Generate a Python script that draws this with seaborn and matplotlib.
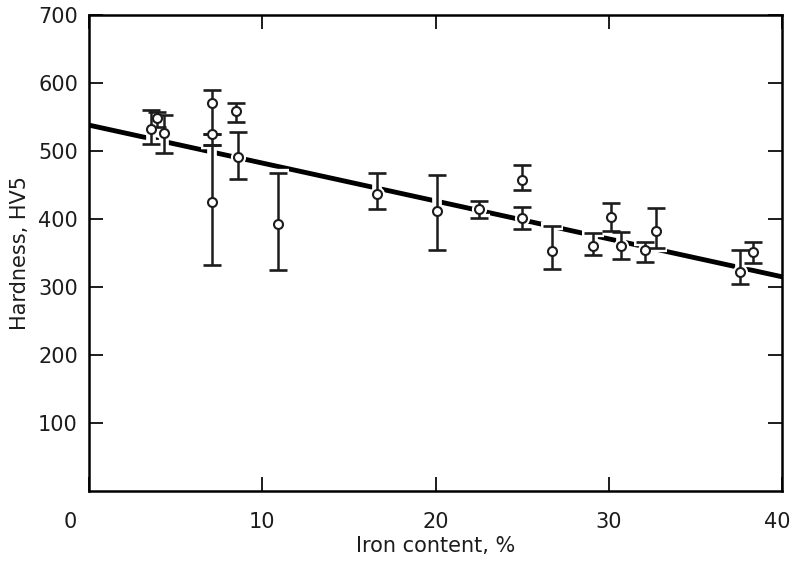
import numpy as np
import pandas as pd
import matplotlib
matplotlib.use('Agg')
import matplotlib.pyplot as plt
import matplotlib.transforms as mtransforms
import seaborn as sns

# measured points: iron content (%) vs hardness (HV5) with error bar ends
iron = [3.6, 3.9, 4.3, 7.1, 7.1, 7.1, 8.5, 8.6, 10.9, 16.6, 20.1, 22.5,
        25.0, 25.0, 26.7, 29.1, 30.1, 30.7, 32.1, 32.7, 37.6, 38.3]
hardness = [533, 548, 526, 570, 525, 425, 559, 491, 393, 437, 412, 415,
            458, 402, 353, 361, 403, 360, 354, 382, 322, 351]
hv_low = [510, 535, 497, 509, 525, 333, 542, 459, 325, 414, 354, 402,
          442, 386, 327, 347, 382, 341, 337, 358, 304, 336]
hv_high = [561, 558, 553, 589, 525, 509, 570, 528, 467, 468, 464, 427,
           480, 417, 389, 379, 423, 381, 366, 416, 354, 366]

# regression line end points
fit_x = [0, 40]
fit_y = [538, 315]

x_ticks = [0, 10, 20, 30, 40]
x_labels = ['', '10', '20', '30', '40']
y_ticks = [100, 200, 300, 400, 500, 600, 700]

df = pd.DataFrame({'iron': iron, 'hv': hardness, 'lo': hv_low, 'hi': hv_high})
yerr = np.array([df.hv - df.lo, df.hi - df.hv])

sns.set_theme(style='ticks')
plt.rcParams['font.family'] = ['DejaVu Sans']
ink = '#1c1c1c'

fig = plt.figure(figsize=(7.9, 5.61), dpi=100)
ax = fig.add_axes([0.1127, 0.1248, 0.8772, 0.8485])

sns.lineplot(x=fit_x, y=fit_y, color='black', linewidth=3.5, ax=ax, zorder=1)

# white halo breaks the regression line around points, like the original
ax.errorbar(df.iron, df.hv, yerr=yerr, fmt='none', ecolor='white',
            elinewidth=7, capsize=8, capthick=6, zorder=2)
ax.scatter(df.iron, df.hv, s=120, color='white', linewidths=0, zorder=2)

ax.errorbar(df.iron, df.hv, yerr=yerr, fmt='none', ecolor=ink,
            elinewidth=1.8, capsize=6.5, capthick=1.9, zorder=3)
sns.scatterplot(data=df, x='iron', y='hv', marker='o', s=42, color='white',
                edgecolor=ink, linewidth=1.5, ax=ax, zorder=4)

ax.set_xlim(0, 40)
ax.set_ylim(0, 700)
ax.set_xticks(x_ticks)
ax.set_xticklabels(x_labels)
ax.set_yticks(y_ticks)
ax.set_yticklabels([str(v) for v in y_ticks])

ax.tick_params(direction='in', length=10, width=1.4, colors=ink,
               labelsize=15, labelcolor=ink, top=True, right=True)
ax.tick_params(axis='x', pad=15)
ax.tick_params(axis='y', pad=8)
for sp in ax.spines.values():
    sp.set_visible(True)
    sp.set_color('black')
    sp.set_linewidth(1.8)

# last x label sits flush with the right edge
last = ax.get_xticklabels()[-1]
last.set_horizontalalignment('right')
last.set_transform(last.get_transform() +
                   mtransforms.ScaledTranslation(6 / 72, 0, fig.dpi_scale_trans))

# shared origin label below the corner
trans = mtransforms.blended_transform_factory(ax.transData, ax.transAxes)
ax.text(-1.1, -0.066, '0', transform=trans, ha='center', va='center',
        fontsize=15, color=ink)

ax.set_xlabel('Iron content, %', fontsize=15, color=ink, labelpad=3)
ax.set_ylabel('Hardness, HV5', fontsize=15, color=ink, labelpad=6)

fig.savefig('out.png', dpi=100, facecolor='white')
